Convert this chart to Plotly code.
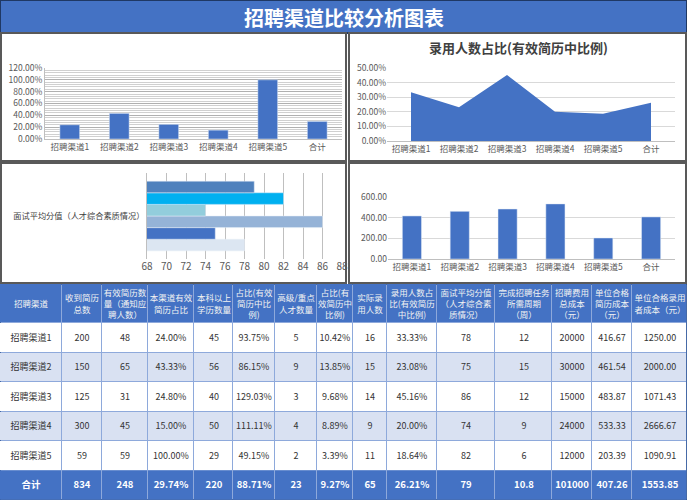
import plotly.graph_objects as go

W, H = 687, 500
FONT = "Noto Sans CJK SC"
BLUE = "#4472C4"
LIGHT = "#D9E1F2"

channels = ["招聘渠道1", "招聘渠道2", "招聘渠道3", "招聘渠道4", "招聘渠道5", "合计"]
resumes_total = [200, 150, 125, 300, 59, 834]
valid_resumes = [48, 65, 31, 45, 59, 248]
valid_ratio = [24.00, 43.33, 24.80, 15.00, 100.00, 29.74]
bachelor_count = [45, 56, 40, 50, 29, 220]
bachelor_ratio = [93.75, 86.15, 129.03, 111.11, 49.15, 88.71]
senior_count = [5, 9, 3, 4, 2, 23]
senior_ratio = [10.42, 13.85, 9.68, 8.89, 3.39, 9.27]
hired = [16, 15, 14, 9, 11, 65]
hired_ratio = [33.33, 23.08, 45.16, 20.00, 18.64, 26.21]
interview_score = [78, 75, 86, 74, 82, 79]
cycle_weeks = [12, 15, 12, 9, 6, 10.8]
total_cost = [20000, 30000, 15000, 24000, 12000, 101000]
cost_per_resume = [416.67, 461.54, 483.87, 533.33, 203.39, 407.26]
cost_per_hire = [1250.00, 2000.00, 1071.43, 2666.67, 1090.91, 1553.85]

score_label = "面试平均分值（人才综合素质情况）"
score_colors = ["#DCE6F2", "#4472C4", "#95B3D7", "#92CDDC", "#00B0F0", "#4F81BD"]

header_labels = [
    "招聘渠道", "收到简历<br>总数", "有效简历数<br>量（通知应<br>聘人数）",
    "本渠道有效<br>简历占比", "本科以上<br>学历数量", "占比(有效<br>简历中比<br>例)",
    "高级/重点<br>人才数量", "占比(有<br>效简历中<br>比例)", "实际录<br>用人数",
    "录用人数占<br>比(有效简历<br>中比例)", "面试平均分值<br>（人才综合素<br>质情况）",
    "完成招聘任务<br>所需周期<br>（周）", "招聘费用<br>总成本<br>（元）",
    "单位合格<br>简历成本<br>（元）", "单位合格录用<br>者成本（元）",
]
col_widths = [62, 40, 46, 46, 39, 42, 42, 36, 34, 50, 58, 57, 40, 40, 55]
header_h = 39
row_h = 29.5


def px_x(x):
    return x / W


def px_y(y):
    return 1 - y / H


def pct(vals):
    return [f"{v:.2f}%" for v in vals]


def plain(vals):
    return [str(v) for v in vals]


def money(vals):
    return [f"{v:.2f}" for v in vals]


fig = go.Figure()

# chart 1: valid resume ratio
fig.add_trace(go.Bar(x=channels, y=[v / 100 for v in valid_ratio], width=0.4,
                     marker_color=BLUE, xaxis="x", yaxis="y"))

# chart 2: hired ratio area
fig.add_trace(go.Scatter(x=channels, y=[v / 100 for v in hired_ratio], fill="tozeroy",
                         mode="none", fillcolor=BLUE, xaxis="x2", yaxis="y2"))

# chart 3: interview score, one series per channel
for name, score, color in zip(channels, interview_score, score_colors):
    fig.add_trace(go.Bar(y=[score_label], x=[score], orientation="h", name=name,
                         marker_color=color, xaxis="x3", yaxis="y3"))

# chart 4: cost per valid resume
fig.add_trace(go.Bar(x=channels, y=cost_per_resume, width=0.4,
                     marker_color=BLUE, xaxis="x4", yaxis="y4"))

# table built from heatmaps so cells are centred and borders show through the gaps
columns = [
    channels, plain(resumes_total), plain(valid_resumes), pct(valid_ratio),
    plain(bachelor_count), pct(bachelor_ratio), plain(senior_count), pct(senior_ratio),
    plain(hired), pct(hired_ratio), plain(interview_score), plain(cycle_weeks),
    plain(total_cost), money(cost_per_resume), money(cost_per_hire),
]
x_edges = [0]
for w in col_widths:
    x_edges.append(x_edges[-1] + w)
y_edges = [0, header_h] + [header_h + row_h * (i + 1) for i in range(6)]
n_cols = len(columns)

body_rows = [[col[r] for col in columns] for r in range(5)]
total_row = [f"<b>{col[5]}</b>" for col in columns]


def table_part(y0, y1, z, text, color, size, scale):
    fig.add_trace(go.Heatmap(
        x=x_edges, y=y_edges[y0:y1], z=z, text=text, texttemplate="%{text}",
        textfont=dict(family=FONT, size=size, color=color),
        colorscale=scale, zmin=0, zmax=1, showscale=False, xgap=1, ygap=1,
        hoverinfo="skip", xaxis="x5", yaxis="y5"))


table_part(0, 2, [[1] * n_cols], [header_labels], "#F2F2F2", 8.5,
           [[0, BLUE], [1, BLUE]])
table_part(1, 7, [[r % 2] * n_cols for r in range(5)], body_rows, "#333333", 9,
           [[0, "white"], [1, LIGHT]])
table_part(6, 8, [[1] * n_cols], [total_row], "white", 9.5,
           [[0, BLUE], [1, BLUE]])

tick_font = dict(family=FONT, size=8.5, color="#595959")
axis_line = dict(showline=True, linecolor="#BFBFBF", linewidth=1)

# panel frames, title bar, table grid backing
shapes = [
    dict(type="rect", xref="paper", yref="paper", x0=0, x1=1, y0=px_y(33), y1=1,
         fillcolor=BLUE, line=dict(color="#1F3864", width=2), layer="below"),
    dict(type="rect", xref="x5", yref="y5", x0=0, x1=x_edges[-1], y0=0, y1=y_edges[-1],
         fillcolor="#8EA9DB", line=dict(color="#2F5597", width=1.5), layer="below"),
]
for x0, y0, x1, y1 in [(1, 33, 346, 161), (349, 33, 686, 161),
                       (1, 163, 346, 283), (349, 163, 686, 283)]:
    shapes.append(dict(type="rect", xref="paper", yref="paper",
                       x0=px_x(x0), x1=px_x(x1), y0=px_y(y1), y1=px_y(y0),
                       line=dict(color="#595959", width=2), layer="below"))

hidden = dict(visible=False, showgrid=False, zeroline=False, fixedrange=True)

fig.update_layout(
    width=W, height=H, margin=dict(l=0, r=0, t=0, b=0, autoexpand=False),
    paper_bgcolor="white", plot_bgcolor="rgba(0,0,0,0)", showlegend=False,
    barmode="group", bargap=0.19, bargroupgap=0,
    font=dict(family=FONT),
    shapes=shapes,
    xaxis=dict(domain=[px_x(45), px_x(342)], anchor="y", tickfont=tick_font, **axis_line),
    yaxis=dict(domain=[px_y(139), px_y(68)], anchor="x", range=[0, 1.2], dtick=0.2,
               tickformat=".2%", tickfont=tick_font, gridcolor="#B0B0B0",
               minor=dict(dtick=0.04, showgrid=True, gridcolor="#D0D0D0"),
               zeroline=False, **axis_line),
    xaxis2=dict(domain=[px_x(387), px_x(675)], anchor="y2", range=[-0.5, 5.5],
                tickfont=tick_font, **axis_line),
    yaxis2=dict(domain=[px_y(141), px_y(68)], anchor="x2", range=[0, 0.5], dtick=0.1,
                tickformat=".2%", tickfont=tick_font, gridcolor="#D9D9D9", zeroline=False),
    xaxis3=dict(domain=[px_x(147), px_x(342)], anchor="y3", range=[68, 88], dtick=2,
                tickfont=dict(family=FONT, size=10, color="#595959"),
                gridcolor="#BFBFBF", zeroline=False),
    yaxis3=dict(domain=[px_y(259), px_y(173)], anchor="x3",
                tickfont=dict(family=FONT, size=8.2, color="#404040"), **axis_line),
    xaxis4=dict(domain=[px_x(388), px_x(675)], anchor="y4", tickfont=tick_font, **axis_line),
    yaxis4=dict(domain=[px_y(259), px_y(197)], anchor="x4", range=[0, 600], dtick=200,
                tickformat=".2f", tickfont=tick_font, gridcolor="#D9D9D9", zeroline=False),
    xaxis5=dict(domain=[0, 1], anchor="y5", range=[0, x_edges[-1]], **hidden),
    yaxis5=dict(domain=[0, px_y(284)], anchor="x5", range=[y_edges[-1], 0], **hidden),
    annotations=[
        dict(text="<b>招聘渠道比较分析图表</b>", x=0.5, y=px_y(17), xref="paper", yref="paper",
             xanchor="center", yanchor="middle", showarrow=False,
             font=dict(family=FONT, size=20, color="white")),
        dict(text="<b>录用人数占比(有效简历中比例)</b>", x=px_x(518), y=px_y(48),
             xref="paper", yref="paper", xanchor="center", yanchor="middle", showarrow=False,
             font=dict(family=FONT, size=13, color="#404040")),
    ],
)

fig.write_html("out.html", config={"displayModeBar": False},
               post_script="document.body.style.margin='0';")
